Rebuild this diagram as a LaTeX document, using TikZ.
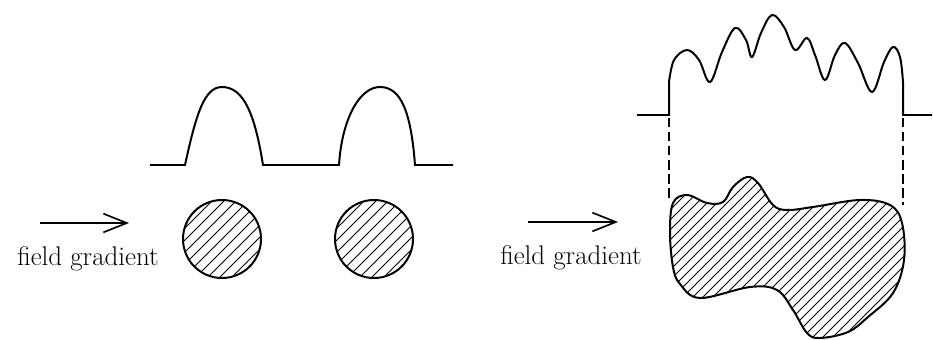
\documentclass[tikz,border=0pt]{standalone}
\usepackage{tikz}
\usetikzlibrary{arrows.meta,positioning,calc}

\begin{document}
\begin{tikzpicture}[x=0.03cm, y=-0.03cm, line width=1.7pt,
  every node/.style={font=\fontsize{23}{26}\selectfont, inner sep=0pt},
  hatch/.style={line width=0.7pt},
  dashline/.style={line width=0.9pt, dash pattern=on 8pt off 4pt},
  grad/.style={-{Straight Barb[length=20pt,width=16pt]}, line width=1.4pt}]
  \useasboundingbox (0,0) rectangle (933,339);

  % two separate samples
  \draw (150,165) -- (185,165) .. controls (196,115) and (204,87) .. (222,87)
    .. controls (244,87) and (255,115) .. (263,165) -- (339,165)
    .. controls (342,118) and (360,87) .. (380,87)
    .. controls (401,87) and (411,112) .. (415,165) -- (453,165);
  \coordinate (diskA) at (222,239);
  \coordinate (diskB) at (374,239);
  \foreach \c in {diskA,diskB} {
    \begin{scope}
      \clip (\c) circle (1.17cm);
      \foreach \d in {-60,-48,...,60}
        \draw[hatch] ($(\c)+(\d-50,50)$) -- ++(100,-100);
    \end{scope}
    \draw (\c) circle (1.17cm);
  }
  \coordinate (gradA0) at (40,223);
  \coordinate (gradA1) at (129,223);
  \draw[grad] (gradA0) -- (gradA1);
  \node (labelA) [anchor=base] at (88,265) {field gradient};

  % one irregular sample
  \draw (637,115) -- (669,115) -- (669,82)
    plot[smooth, tension=0.6] coordinates {(669,82) (674,60) (687,50) (699,60)
      (710,82) (722,52) (735,28) (746,40) (752,57) (761,33) (772,15) (784,27)
      (795,50) (807,38) (815,55) (825,80) (835,55) (845,43) (858,63) (872,92)
      (884,62) (893,47) (900,57) (903,82)}
    -- (903,115) -- (932,115);
  \coordinate (edgeL) at (669,118);
  \coordinate (edgeR) at (903,118);
  \coordinate (edgeLb) at (669,200);
  \coordinate (edgeRb) at (903,205);
  \draw[dashline] (edgeL) -- (edgeLb);
  \draw[dashline] (edgeR) -- (edgeRb);
  \def\blob{plot[smooth cycle, tension=0.6] coordinates {(673,203) (687,195)
    (707,203) (723,202) (733,187) (747,177) (758,183) (773,205) (787,210)
    (813,207) (860,200) (890,205) (902,223) (904,260) (893,293) (868,317)
    (848,332) (820,338) (807,333) (793,310) (777,290) (750,287) (700,298)
    (680,284) (673,267) (670,233)}}
  \begin{scope}
    \clip \blob;
    \foreach \d in {560,570,...,1060}
      \draw[hatch] (\d-200,340) -- ++(200,-200);
  \end{scope}
  \draw \blob;
  \coordinate (gradB0) at (528,222);
  \coordinate (gradB1) at (618,222);
  \draw[grad] (gradB0) -- (gradB1);
  \node (labelB) [anchor=base] at (571,264) {field gradient};
\end{tikzpicture}
\end{document}
